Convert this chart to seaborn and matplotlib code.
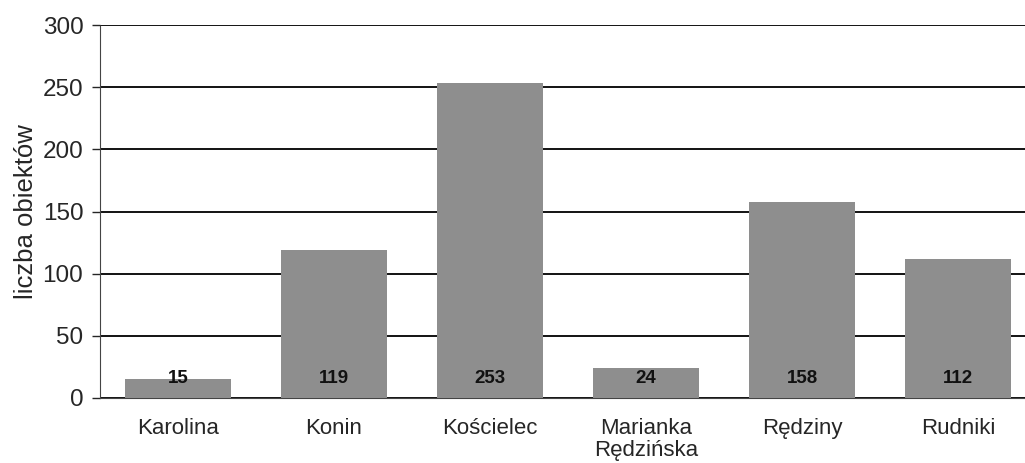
import matplotlib
matplotlib.use("Agg")
import matplotlib.pyplot as plt
import seaborn as sns
import pandas as pd

categories = ["Karolina", "Konin", "Kościelec", "Marianka\nRędzińska", "Rędziny", "Rudniki"]
values = [15, 119, 253, 24, 158, 112]
yticks = [0, 50, 100, 150, 200, 250, 300]

df = pd.DataFrame({"miejscowosc": categories, "liczba": values})

sns.set_style("white")
plt.rcParams["font.family"] = ["Liberation Sans", "DejaVu Sans"]

fig = plt.figure(figsize=(10.25, 4.63), dpi=100)
ax = fig.add_axes([100 / 1025, 1 - 398 / 463, 936 / 1025, 373 / 463])

sns.barplot(data=df, x="miejscowosc", y="liczba", color="#8e8e8e",
            width=0.68, saturation=1, linewidth=0, ax=ax, zorder=3)

for i, v in enumerate(values):
    ax.text(i, 16, str(v), ha="center", va="center", fontsize=13.5,
            fontweight="bold", color="#111111", zorder=4)

ax.set_ylim(0, 300)
ax.set_xlim(-0.5, len(categories) - 0.5)
ax.set_yticks(yticks)
ax.yaxis.grid(True, color="black", linewidth=1.3, zorder=0)
ax.set_axisbelow(True)

for s in ["top", "right"]:
    ax.spines[s].set_visible(False)
ax.spines["left"].set_linestyle((0, (2, 1)))
ax.spines["left"].set_color("#444444")
ax.spines["bottom"].set_linestyle((0, (2, 1)))
ax.spines["bottom"].set_color("#444444")

ax.tick_params(axis="y", left=True, length=6, width=1, labelsize=17.5, pad=6)
ax.tick_params(axis="x", bottom=False, labelsize=16, pad=11)
for lbl in ax.get_xticklabels():
    lbl.set_linespacing(1.05)
ax.set_xlabel("")
ax.set_ylabel("liczba obiektów", fontsize=18.5, labelpad=3)

fig.savefig("out.png", dpi=100)
